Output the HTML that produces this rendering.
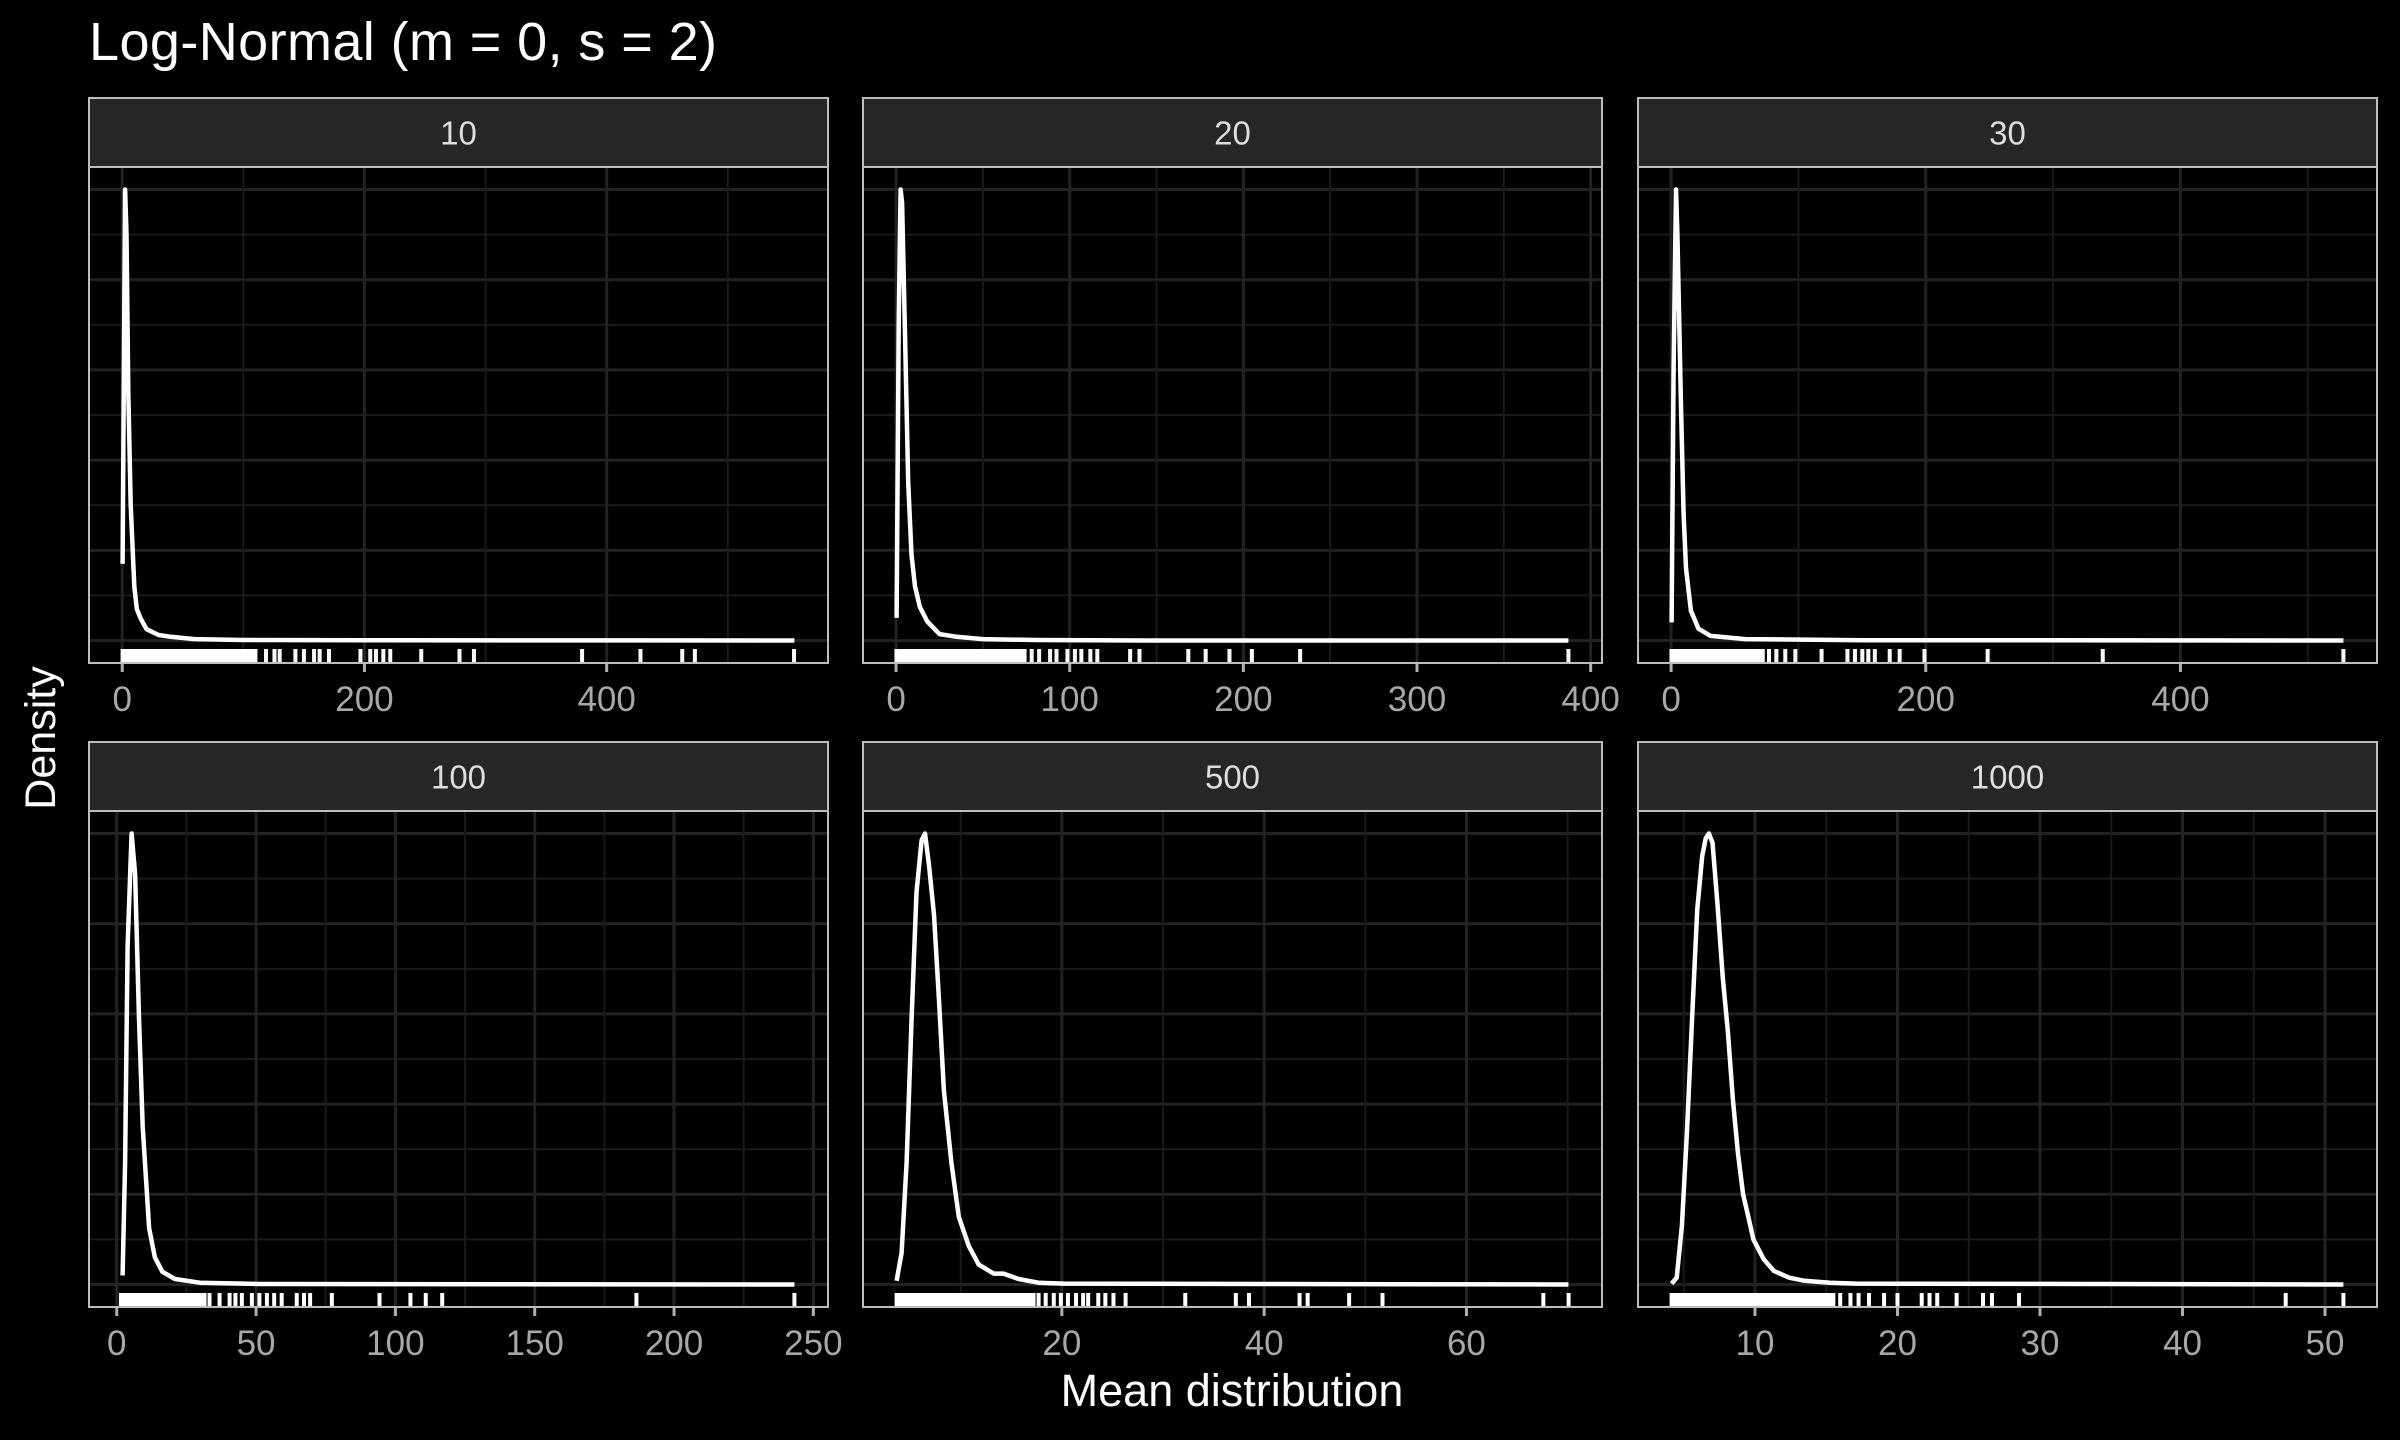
<!DOCTYPE html>
<html><head><meta charset="utf-8">
<style>
html,body{margin:0;padding:0;background:#000;}
svg{display:block;}
text{font-family:"Liberation Sans",sans-serif;}
</style></head>
<body>
<svg id="chart" width="2400" height="1440" viewBox="0 0 2400 1440" xmlns="http://www.w3.org/2000/svg">
<rect x="0" y="0" width="2400" height="1440" fill="#000"/>
<text x="89" y="60" font-size="54" fill="#fff" textLength="628">Log-Normal (m = 0, s = 2)</text>
<text x="1232" y="1406" font-size="45" fill="#fff" text-anchor="middle">Mean distribution</text>
<text transform="translate(55,738) rotate(-90)" font-size="43" fill="#fff" text-anchor="middle">Density</text>
<g id="panels"></g>
</svg>
<script>
// ---- data ----
const facetLabels = ["10","20","30","100","500","1000"];
// density curves: x values and relative density (peak = 1)
const curveX1 = [0.3,2.4,3.5,5,7,10,12,15,20,30,40,60,100,200,555];
const curveY1 = [0.17,1.0,0.9,0.55,0.3,0.12,0.07,0.05,0.025,0.012,0.008,0.003,0.001,0.0003,0];
const curveX2 = [0.3,1.5,2.6,3.5,5,7,8.9,10.9,13.7,18,25,35,50,80,150,387.2];
const curveY2 = [0.05,0.7,1.0,0.97,0.7,0.35,0.19,0.12,0.074,0.042,0.014,0.008,0.003,0.001,0,0];
const curveX3 = [0.4,2,3.9,5,7.8,9.8,11.7,15.6,21.5,31,58.5,150,528];
const curveY3 = [0.04,0.6,1.0,0.9,0.52,0.28,0.16,0.066,0.026,0.01,0.003,0.0005,0];
const curveX4 = [2.1,3,3.9,5.35,6.6,8,9.3,11.6,13.7,16.4,20.9,29.8,51,243.2];
const curveY4 = [0.02,0.27,0.75,1.0,0.91,0.59,0.35,0.125,0.06,0.028,0.012,0.004,0.001,0];
const curveX5 = [3.66,4.16,4.65,5.14,5.63,6.13,6.47,6.86,7.36,7.85,8.34,9.08,9.81,10.8,11.78,13.26,14.24,15.72,17.69,20.15,70.08];
const curveY5 = [0.008,0.07,0.27,0.59,0.87,0.985,1.0,0.93,0.82,0.63,0.43,0.27,0.15,0.085,0.044,0.024,0.024,0.012,0.004,0.002,0];
const curveX6 = [4.15,4.51,4.87,5.23,5.59,5.95,6.30,6.55,6.77,7.02,7.38,7.74,8.10,8.45,8.81,9.17,9.53,9.89,10.61,11.32,12.40,13.47,15.26,17.06,51.29];
const curveY6 = [0.002,0.015,0.13,0.34,0.59,0.83,0.95,0.99,1.0,0.98,0.84,0.68,0.56,0.41,0.29,0.20,0.15,0.10,0.056,0.03,0.015,0.008,0.004,0.002,0];
// rug: dense block [from,to] plus individual sample values
const rugDense = [[0.3,110],[0.2,74],[0.3,72],[1.5,31.5],[3.66,17.2],[4.15,15.5]];
const rug1 = [118.7,125.7,130,143,150,158.4,163,170.7,196.7,204.8,209.5,215.6,221.3,246.9,278.5,290.4,379.7,427.9,462.4,472.8,554.7];
const rug2 = [73.8,78.1,82.4,88.7,92.4,98.7,103,106.7,111.9,115.9,134.8,140.2,168.3,178.3,192,204.9,232.7,387.2];
const rug3 = [76.9,82.7,89.7,97.6,118.2,138.5,144.4,150.2,154.9,160,171.7,179.5,199,248.6,339,528];
const rug4 = [33.3,36.9,40.5,42.6,44.9,48.5,51.2,53.9,56.5,59.2,64.6,67.2,69.4,77.2,94.3,105.4,110.9,116.8,186.5,243.2];
const rug5 = [17.7,18.4,19.2,19.9,20.6,21.4,22.1,22.6,23.6,24.3,25.1,26.3,32.2,37.2,38.5,43.5,44.3,48.4,51.7,67.6,70.1];
const rug6 = [15.98,16.7,17.27,18,19.06,20,21.7,22.25,22.79,24.15,26.0,26.63,28.53,47.24,51.29];
// tick breaks
const ticks1 = [0,200,400];
const ticks2 = [0,100,200,300,400];
const ticks3 = [0,200,400];
const ticks4 = [0,50,100,150,200,250];
const ticks5 = [20,40,60];
const ticks6 = [10,20,30,40,50];
const minor1 = [100,300,500];
const minor2 = [50,150,250,350];
const minor3 = [100,300,500];
const minor4 = [25,75,125,175,225];
const minor5 = [10,30,50,70];
const minor6 = [5,15,25,35,45];

// ---- layout ----
const curvesX=[curveX1,curveX2,curveX3,curveX4,curveX5,curveX6];
const curvesY=[curveY1,curveY2,curveY3,curveY4,curveY5,curveY6];
const rugs=[rug1,rug2,rug3,rug4,rug5,rug6];
const ticks=[ticks1,ticks2,ticks3,ticks4,ticks5,ticks6];
const minors=[minor1,minor2,minor3,minor4,minor5,minor6];
const colL=[89,863,1638], colR=[828,1602,2377];
const rowStripTop=[98,742], rowPlotTop=[167,811], rowPlotBot=[663,1307];
const NS="http://www.w3.org/2000/svg";
const root=document.getElementById('panels');
function mk(tag,attrs,parent){const e=document.createElementNS(NS,tag);for(const k in attrs)e.setAttribute(k,attrs[k]);(parent||root).appendChild(e);return e;}

for(let i=0;i<6;i++){
  const c=i%3,r=Math.floor(i/3);
  const L=colL[c],R=colR[c],T=rowPlotTop[r],B=rowPlotBot[r],ST=rowStripTop[r];
  const xs=curvesX[i],ys=curvesY[i];
  const xmin=Math.min(...xs),xmax=Math.max(...xs),span=xmax-xmin;
  const d0=xmin-span*0.05,d1=xmax+span*0.05;
  const ymax=Math.max(...ys),y0=-0.05*ymax,y1=1.05*ymax;
  const sx=v=>L+(v-d0)/(d1-d0)*(R-L);
  const sy=v=>B-(v-y0)/(y1-y0)*(B-T);
  const g=mk('g',{});
  
  
  // strip
  const strip=mk('rect',{x:L,y:ST,width:R-L,height:T-ST,fill:'#262626',stroke:'#bdbdbd','stroke-width':2},g);
  
  
  const st=mk('text',{x:(L+R)/2,y:(ST+T)/2+12,'font-size':33,fill:'#dedede','text-anchor':'middle'},g);
  st.textContent=facetLabels[i];
  
  
  // grid
  const clipG=mk('g',{},g);
  for(let k=0;k<=10;k++){
    const yy=sy(k*0.1*ymax);
    const hl=mk('line',{x1:L,x2:R,y1:yy,y2:yy,stroke:k%2===0?'#222':'#1a1a1a','stroke-width':k%2===0?3:2},clipG);
    
    
  }
  minors[i].forEach(v=>{const xx=sx(v);if(xx<L||xx>R)return;
    const l=mk('line',{x1:xx,x2:xx,y1:T,y2:B,stroke:'#1a1a1a','stroke-width':2},clipG);
    
    });
  ticks[i].forEach(v=>{const xx=sx(v);
    const l=mk('line',{x1:xx,x2:xx,y1:T,y2:B,stroke:'#222','stroke-width':3},clipG);
    
    
    const tk=mk('line',{x1:xx,x2:xx,y1:B,y2:B+9,stroke:'#b0b0b0','stroke-width':3},g);
    
    
    const tl=mk('text',{x:xx,y:B+48,'font-size':35,fill:'#a8a8a8','text-anchor':'middle'},g);
    tl.textContent=String(v);
    
    });
  // rug
  const rd=rugDense[i];
  const rb=mk('rect',{x:sx(rd[0])-2,y:B-14,width:sx(rd[1])-sx(rd[0])+4,height:14,fill:'#fff'},g);
  
  
  rugs[i].forEach(v=>{const xx=sx(v);
    const l=mk('line',{x1:xx,x2:xx,y1:B-14,y2:B,stroke:'#fff','stroke-width':4},g);
    
    });
  // curve
  let d='';xs.forEach((v,j)=>{d+=(j?'L':'M')+sx(v).toFixed(1)+','+sy(ys[j]).toFixed(1);});
  const p=mk('path',{d:d,fill:'none',stroke:'#fff','stroke-width':4.5,'stroke-linejoin':'round'},g);
  
  
  // border
  const bd=mk('rect',{x:L,y:T,width:R-L,height:B-T,fill:'none',stroke:'#bdbdbd','stroke-width':2},g);
  
  
}
</script>
</body></html>
